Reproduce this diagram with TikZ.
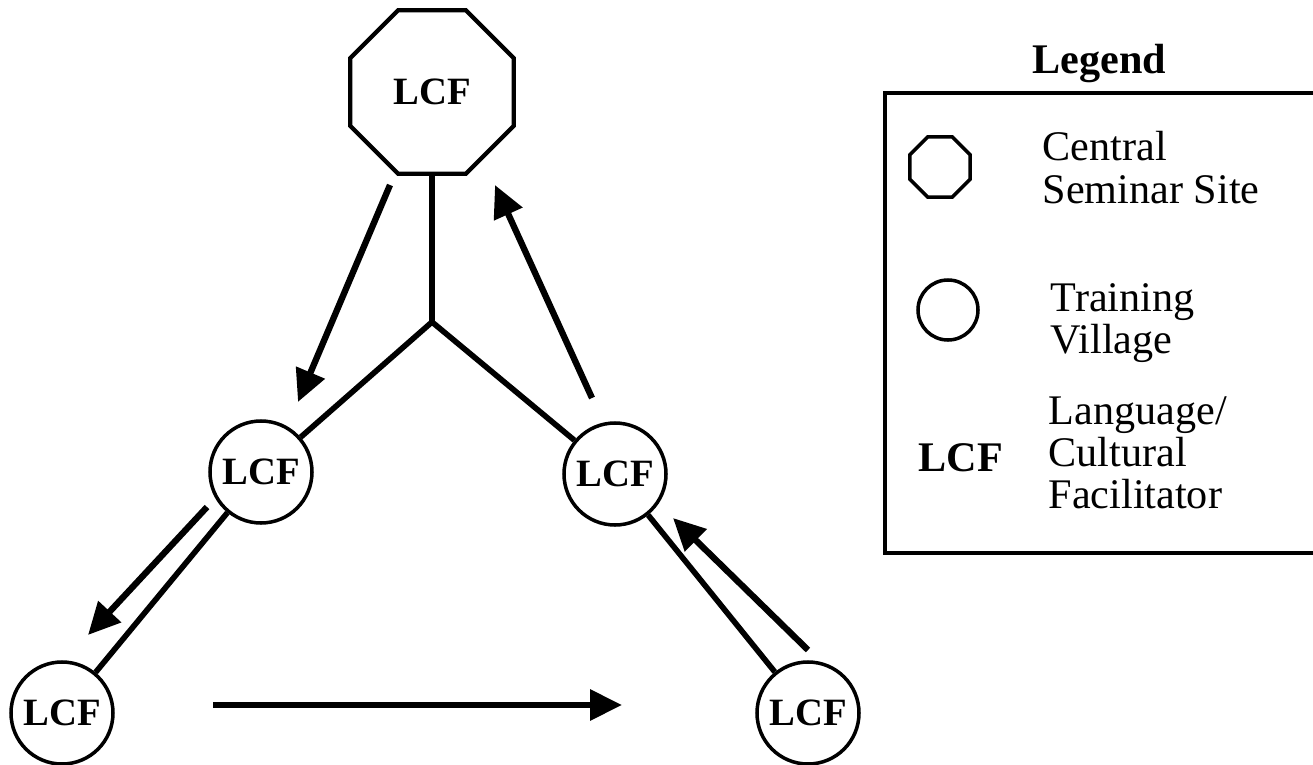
\documentclass[tikz,border=0pt]{standalone}
\usepackage{fontspec}
\setmainfont{Liberation Serif}
\usetikzlibrary{shapes.geometric,arrows.meta}
\tikzset{
  site/.style={draw,regular polygon,regular polygon sides=8,inner sep=0pt,line width=1.2pt},
  village/.style={draw,circle,minimum size=1.02cm,inner sep=0pt,line width=1pt},
  lcf/.style={font=\bfseries\fontsize{11}{11}\selectfont},
  link/.style={line width=1.6pt},
  flow/.style={line width=1.8pt,-{Triangle[length=0.32cm,width=0.30cm]}},
  keytext/.style={anchor=north west,inner sep=0pt,align=left,font=\fontsize{12}{12}\selectfont}
}
\begin{document}
\begin{tikzpicture}
\useasboundingbox (0,0) rectangle (13.13,-7.65);
\node (top) at (4.32,-0.92) [site,lcf,minimum size=1.77cm] {LCF};
\coordinate (fork) at (4.32,-3.22);
\node (ml) at (2.61,-4.72) [village,lcf] {LCF};
\node (mr) at (6.15,-4.74) [village,lcf] {LCF};
\node (bl) at (0.62,-7.13) [village,lcf] {LCF};
\node (br) at (8.08,-7.13) [village,lcf] {LCF};
\draw [link] (top) -- (fork);
\draw [link] (fork) -- (ml);
\draw [link] (fork) -- (mr);
\draw [link] (ml) -- (bl);
\draw [link] (mr) -- (br);
\coordinate (a1) at (3.90,-1.85);
\coordinate (b1) at (2.98,-4.02);
\coordinate (a2) at (5.92,-3.98);
\coordinate (b2) at (4.95,-1.85);
\coordinate (a3) at (2.07,-5.07);
\coordinate (b3) at (0.88,-6.35);
\coordinate (a4) at (8.08,-6.50);
\coordinate (b4) at (6.73,-5.18);
\coordinate (a5) at (2.13,-7.05);
\coordinate (b5) at (6.22,-7.05);
\draw [flow] (a1) -- (b1);
\draw [flow] (a2) -- (b2);
\draw [flow] (a3) -- (b3);
\draw [flow] (a4) -- (b4);
\draw [flow] (a5) -- (b5);
\node (legend) at (10.20,-0.73) [anchor=base west,font=\bfseries\fontsize{12}{12}\selectfont] {Legend};
\draw [line width=1.4pt] (13.13,-0.93) -- (8.85,-0.93) -- (8.85,-5.53) -- (13.13,-5.53);
\node (keysite) at (9.40,-1.67) [site,minimum size=0.65cm,line width=1pt] {};
\node (keyvillage) at (9.48,-3.10) [village,minimum size=0.60cm] {};
\node (keylcf) at (9.61,-4.58) [lcf,font=\bfseries\fontsize{12}{12}\selectfont] {LCF};
\node (txtsite) at (10.42,-1.31) [keytext] {Central\\Seminar Site};
\node (txtvillage) at (10.50,-2.83) [keytext] {Training\\Village};
\node (txtlcf) at (10.48,-3.96) [keytext] {Language/\\Cultural\\Facilitator};
\end{tikzpicture}
\end{document}
